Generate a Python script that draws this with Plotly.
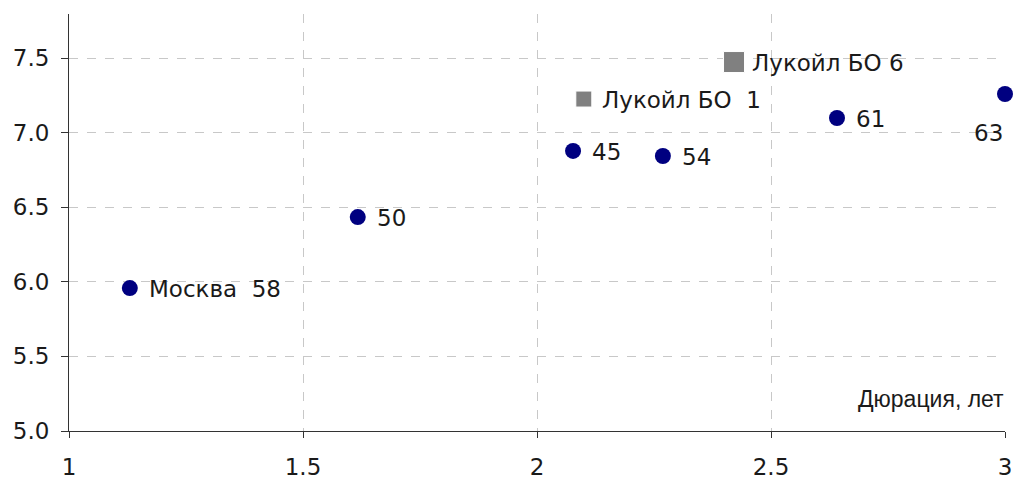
import plotly.graph_objects as go

# Bonds (circles)
bond_names = ["Москва\u00a0 58", "50", "45", "54", "61", "63"]
bond_duration = [1.13, 1.617, 2.077, 2.269, 2.641, 3.0]
bond_yield = [5.958, 6.434, 6.877, 6.843, 7.098, 7.259]

# Lukoil (squares)
luk_names = ["Лукойл БО\u00a0 1", "Лукойл БО 6"]
luk_duration = [2.10, 2.421]
luk_yield = [7.225, 7.473]
luk_sizes = [16, 21]

x_ticks = [1, 1.5, 2, 2.5, 3]
y_ticks = [5.0, 5.5, 6.0, 6.5, 7.0, 7.5]
x_title = "Дюрация, лет"

FONT = "DejaVu Sans"
TXT = "#1a1a1a"

fig = go.Figure()
fig.add_trace(go.Scatter(
    x=bond_duration, y=bond_yield, mode="markers",
    marker=dict(symbol="circle", size=16, color="#000080", opacity=1),
    cliponaxis=False, showlegend=False, hoverinfo="skip"))
fig.add_trace(go.Scatter(
    x=luk_duration, y=luk_yield, mode="markers",
    marker=dict(symbol="square", size=luk_sizes, color="#808080", opacity=1),
    cliponaxis=False, showlegend=False, hoverinfo="skip"))

annotations = []
for i, (x, y, t) in enumerate(zip(bond_duration, bond_yield, bond_names)):
    if i == len(bond_names) - 1:
        annotations.append(dict(x=x, y=y, text=t, showarrow=False, xanchor="right",
                                yanchor="middle", xshift=0, yshift=-39,
                                font=dict(family=FONT, size=23, color=TXT)))
    else:
        annotations.append(dict(x=x, y=y, text=t, showarrow=False, xanchor="left",
                                yanchor="middle", xshift=17, yshift=-1,
                                font=dict(family=FONT, size=23, color=TXT)))
for x, y, t in zip(luk_duration, luk_yield, luk_names):
    annotations.append(dict(x=x, y=y, text=t, showarrow=False, xanchor="left",
                            yanchor="middle", xshift=16, yshift=-1,
                            font=dict(family=FONT, size=23, color=TXT)))
annotations.append(dict(x=1, y=0, xref="paper", yref="paper", text=x_title,
                        showarrow=False, xanchor="right", yanchor="bottom",
                        xshift=1, yshift=17,
                        font=dict(family="Liberation Sans", size=23, color=TXT)))

fig.update_layout(
    width=1015, height=479,
    margin=dict(l=69, r=10, t=14, b=48),
    paper_bgcolor="white", plot_bgcolor="white",
    font=dict(family=FONT, size=23, color=TXT),
    annotations=annotations,
    xaxis=dict(range=[1, 3], tickvals=x_ticks, ticktext=[str(v) for v in x_ticks],
               showgrid=True, gridcolor="#c8c8c8", griddash="dash", gridwidth=1,
               showline=True, linecolor="#333333", linewidth=1,
               ticks="outside", ticklen=6, tickcolor="#333333",
               ticklabelstandoff=9, zeroline=False, automargin=False),
    yaxis=dict(range=[5, 7.795], tickvals=y_ticks, tickformat=".1f",
               showgrid=True, gridcolor="#c8c8c8", griddash="dash", gridwidth=1,
               showline=True, linecolor="#333333", linewidth=1,
               ticks="outside", ticklen=7, tickcolor="#333333",
               ticklabelstandoff=7, zeroline=False, automargin=False),
)
fig.write_html("out.html", config={"displayModeBar": False},
               post_script="document.body.style.margin='0';document.body.style.overflow='hidden';")
